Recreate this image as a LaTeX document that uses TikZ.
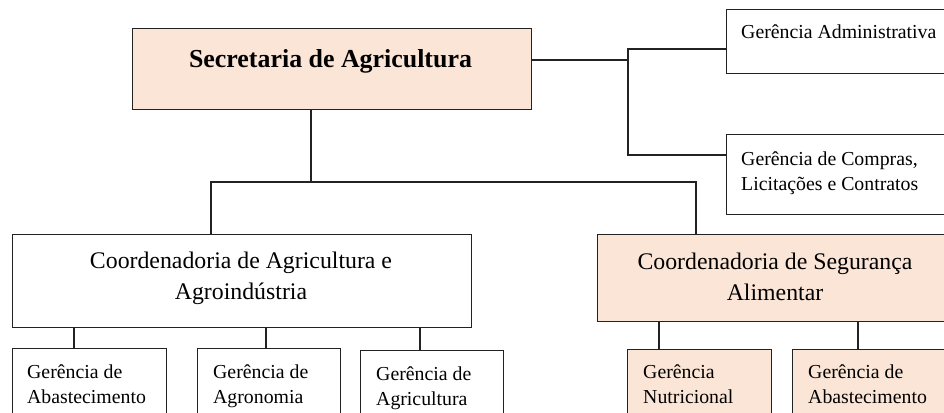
\documentclass[tikz,border=0pt]{standalone}
\usepackage{fontspec}
\setmainfont{Liberation Serif}
\definecolor{peach}{HTML}{FBE5D6}
\definecolor{edge}{HTML}{222222}
\begin{document}
\begin{tikzpicture}[x=1pt,y=-1pt,
  box/.style={draw=edge,line width=1.4pt,rectangle,inner sep=0,anchor=north west},
  fillbox/.style={box,fill=peach},
  lbl/.style={anchor=base west,inner sep=0,text=black},
  clbl/.style={anchor=base,inner sep=0,text=black},
  small/.style={font=\fontsize{19.8}{25.5}\selectfont},
  big/.style={font=\fontsize{23.8}{31}\selectfont},
  conn/.style={draw=edge,line width=1.3pt}]
\useasboundingbox (0,0) rectangle (944,412);
\clip (0,0) rectangle (944,412);
% boxes
\node[fillbox,minimum width=399pt,minimum height=81pt] (sec) at (132,28) {};
\node[box,minimum width=240pt,minimum height=64pt] (adm) at (726,9) {};
\node[box,minimum width=240pt,minimum height=80pt] (com) at (726,134) {};
\node[box,minimum width=459pt,minimum height=93pt] (ca) at (12,234) {};
\node[fillbox,minimum width=360pt,minimum height=87pt] (cs) at (597,234) {};
\node[box,minimum width=154pt,minimum height=90pt] (a1) at (12,348) {};
\node[box,minimum width=143pt,minimum height=90pt] (a2) at (197,348) {};
\node[box,minimum width=143pt,minimum height=90pt] (a3) at (360,350) {};
\node[fillbox,minimum width=144pt,minimum height=90pt] (s1) at (627,349) {};
\node[fillbox,minimum width=180pt,minimum height=90pt] (s2) at (792,349) {};
% labels
\node[clbl,font=\fontsize{25.9}{31}\selectfont\bfseries] (tsec) at (330.5,67) {Secretaria de Agricultura};
\node[lbl,small] (tadm) at (741,39) {Gerência Administrativa};
\node[lbl,small] (tcom) at (741,165) {\begin{tabular}[t]{@{}l@{}}Gerência de Compras,\\Licitações e Contratos\end{tabular}};
\node[clbl,big] (tca) at (241,268) {\begin{tabular}[t]{@{}c@{}}Coordenadoria de Agricultura e\\Agroindústria\end{tabular}};
\node[clbl,big] (tcs) at (775,269) {\begin{tabular}[t]{@{}c@{}}Coordenadoria de Segurança\\Alimentar\end{tabular}};
\node[lbl,small] (ta1) at (27,378) {\begin{tabular}[t]{@{}l@{}}Gerência de\\Abastecimento\end{tabular}};
\node[lbl,small] (ta2) at (213,378) {\begin{tabular}[t]{@{}l@{}}Gerência de\\Agronomia\end{tabular}};
\node[lbl,small] (ta3) at (376,380) {\begin{tabular}[t]{@{}l@{}}Gerência de\\Agricultura\end{tabular}};
\node[lbl,small] (ts1) at (643,378) {\begin{tabular}[t]{@{}l@{}}Gerência\\Nutricional\end{tabular}};
\node[lbl,small] (ts2) at (808,378) {\begin{tabular}[t]{@{}l@{}}Gerência de\\Abastecimento\end{tabular}};
% junction coordinates
\coordinate (jr) at (628,60);
\coordinate (jd) at (311,182);
% connectors
\draw[conn] (sec.east |- jr) -- (jr);
\draw[conn] (adm.west |- 0,49) -| (jr) |- (com.west |- 0,155);
\draw[conn] (sec.south -| jd) -- (jd);
\draw[conn] (ca.north -| 211,0) |- (jd) -| (cs.north -| 696,0);
\draw[conn] (a1.north -| 74,0) -- (ca.south -| 74,0);
\draw[conn] (a2.north -| 266,0) -- (ca.south -| 266,0);
\draw[conn] (a3.north -| 420,0) -- (ca.south -| 420,0);
\draw[conn] (s1.north -| 659,0) -- (cs.south -| 659,0);
\draw[conn] (s2.north -| 858,0) -- (cs.south -| 858,0);
\end{tikzpicture}
\end{document}
